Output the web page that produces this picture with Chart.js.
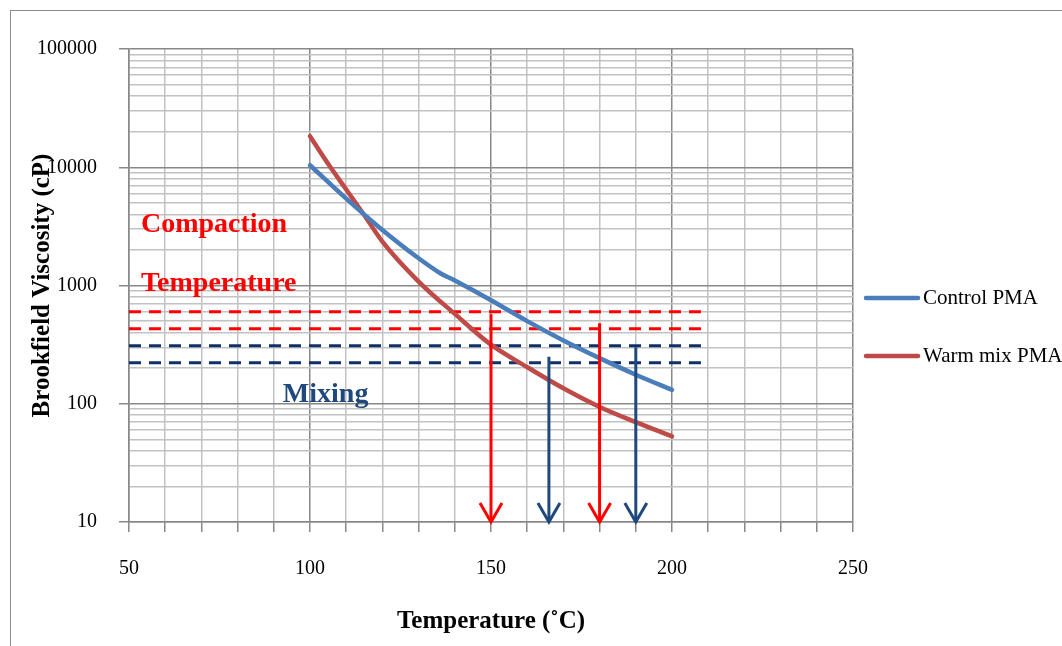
<!DOCTYPE html>
<html>
<head>
<meta charset="utf-8">
<script src="https://cdn.jsdelivr.net/npm/chart.js@4"></script>
<style>
  body { margin: 0; background: #fff; }
  #wrap { position: relative; width: 1062px; height: 646px; overflow: hidden; background: #fff; }
  #frame { position: absolute; left: 10px; top: 10px; width: 1200px; height: 800px; border: 1px solid #8c8c8c; }
  #viscChart { position: absolute; left: 0; top: 0; }
</style>
</head>
<body>
<div id="wrap">
  <div id="frame"></div>
  <canvas id="viscChart" width="1062" height="646"></canvas>
</div>
<script>
// temperature (C) vs brookfield viscosity (cP)
const controlTemp = [100, 110, 120, 130, 136, 140, 150, 160, 170, 180, 190, 200];
const controlVisc = [10400, 5430, 2950, 1700, 1270, 1100, 750, 500, 343, 243, 176, 131];

const warmTemp = [100, 105, 110, 115, 120, 130, 140, 150, 160, 170, 180, 190, 200];
const warmVisc = [18300, 10700, 6480, 3930, 2350, 1080, 575, 316, 204, 135, 94, 70, 53];

// horizontal dashed limits
const limitTemps = [50, 208];
const compactionLimits = [600, 430];
const mixingLimits = [310, 222];

// arrows: temperature, start viscosity (down to axis)
const compactionArrowT = [150, 180];
const compactionArrowV = [570, 480];
const mixingArrowT = [166, 190];
const mixingArrowV = [250, 300];

const xTicks = [50, 60, 70, 80, 90, 100, 110, 120, 130, 140, 150, 160, 170, 180, 190, 200, 210, 220, 230, 240, 250];
const xTickLabels = [50, 100, 150, 200, 250];
const yTickLabels = [10, 100, 1000, 10000, 100000];

const FONT = "'Liberation Serif', 'Times New Roman', serif";
const BLUE = '#4a7ebb';
const RED = '#be4b48';
const NAVY = '#10306b';
const ARROW_NAVY = '#1f497d';
const MAJOR = '#888888';
const MINOR = '#c2c2c2';

// minor log ticks 1..9 per decade
let yTicks = [];
for (let d = 10; d < 100000; d *= 10) {
  for (let m = 1; m < 10; m++) yTicks.push(m * d);
}
yTicks.push(100000);

const notes = [
  { text: 'Compaction', t: 53.3, v: 3280, color: '#ff0000' },
  { text: 'Temperature', t: 53.3, v: 1040, color: '#ff0000' },
  { text: 'Mixing', t: 92.5, v: 119, color: ARROW_NAVY }
];

function pts(xs, ys) {
  return xs.map((x, i) => ({ x: x, y: ys[i] }));
}

let datasets = [
  { label: 'Control PMA', data: pts(controlTemp, controlVisc), borderColor: BLUE, borderWidth: 4.5,
    cubicInterpolationMode: 'monotone', pointRadius: 0, order: 1, series: true, borderCapStyle: 'round' },
  { label: 'Warm mix PMA', data: pts(warmTemp, warmVisc), borderColor: RED, borderWidth: 4.5,
    cubicInterpolationMode: 'monotone', pointRadius: 0, order: 1, series: true, borderCapStyle: 'round' }
];

compactionLimits.forEach(v => datasets.push({
  data: pts(limitTemps, [v, v]), borderColor: '#ff0000', borderWidth: 3, borderDash: [12, 8],
  pointRadius: 0, order: 2
}));
mixingLimits.forEach(v => datasets.push({
  data: pts(limitTemps, [v, v]), borderColor: NAVY, borderWidth: 3, borderDash: [12, 8],
  pointRadius: 0, order: 2
}));
compactionArrowT.forEach((t, i) => datasets.push({
  data: pts([t, t], [compactionArrowV[i], 10]), borderColor: '#ff0000', borderWidth: 3,
  pointRadius: 0, order: 0, arrow: true
}));
mixingArrowT.forEach((t, i) => datasets.push({
  data: pts([t, t], [mixingArrowV[i], 10]), borderColor: ARROW_NAVY, borderWidth: 3,
  pointRadius: 0, order: 0, arrow: true
}));

const extras = {
  id: 'extras',
  afterDatasetsDraw(chart) {
    const ctx = chart.ctx;
    const xs = chart.scales.x, ys = chart.scales.y;
    ctx.save();
    // arrow heads
    chart.data.datasets.forEach(ds => {
      if (!ds.arrow) return;
      const end = ds.data[ds.data.length - 1];
      const px = xs.getPixelForValue(end.x), py = ys.getPixelForValue(end.y);
      ctx.strokeStyle = ds.borderColor;
      ctx.lineWidth = 3;
      ctx.setLineDash([]);
      ctx.beginPath();
      ctx.moveTo(px - 11, py - 19);
      ctx.lineTo(px, py);
      ctx.lineTo(px + 11, py - 19);
      ctx.stroke();
    });
    // notes
    ctx.font = 'bold 28px ' + FONT;
    ctx.textBaseline = 'middle';
    ctx.textAlign = 'left';
    notes.forEach(n => {
      ctx.fillStyle = n.color;
      ctx.fillText(n.text, xs.getPixelForValue(n.t), ys.getPixelForValue(n.v));
    });
    // legend
    const lx = chart.chartArea.right + 11;
    const rows = [298, 356];
    let k = 0;
    ctx.font = '21px ' + FONT;
    chart.data.datasets.forEach(ds => {
      if (!ds.series) return;
      const y = rows[k++];
      ctx.strokeStyle = ds.borderColor;
      ctx.lineWidth = 4.5;
      ctx.lineCap = 'round';
      ctx.beginPath();
      ctx.moveTo(lx + 2, y);
      ctx.lineTo(lx + 54, y);
      ctx.stroke();
      ctx.fillStyle = '#000';
      ctx.fillText(ds.label, lx + 59, y);
    });
    ctx.restore();
  }
};

new Chart(document.getElementById('viscChart'), {
  type: 'line',
  data: { datasets: datasets },
  plugins: [extras],
  options: {
    responsive: false,
    animation: false,
    layout: { padding: { top: 49, right: 209, left: 0, bottom: 0 } },
    plugins: { legend: { display: false }, tooltip: { enabled: false } },
    scales: {
      x: {
        type: 'linear', min: 50, max: 250,
        afterBuildTicks: axis => { axis.ticks = xTicks.map(v => ({ value: v })); },
        afterFit: s => { s.height = 124; },
        ticks: {
          autoSkip: false, maxRotation: 0, padding: 25, color: '#000',
          font: { family: FONT, size: 20 },
          callback: v => xTickLabels.includes(v) ? String(v) : ''
        },
        grid: {
          color: c => (c.tick && c.tick.value % 50 === 0) ? MAJOR : MINOR,
          lineWidth: 1.5, tickLength: 10, tickColor: MAJOR, tickWidth: 1.5
        },
        border: { color: MAJOR, width: 1.5 },
        title: {
          display: true, text: 'Temperature (˚C)', color: '#000',
          font: { family: FONT, size: 25, weight: 'bold' }, padding: { bottom: 9 }
        }
      },
      y: {
        type: 'logarithmic', min: 10, max: 100000,
        afterBuildTicks: axis => { axis.ticks = yTicks.map(v => ({ value: v })); },
        afterFit: s => { s.width = 129; },
        ticks: {
          autoSkip: false, padding: 22, color: '#000',
          font: { family: FONT, size: 20 },
          callback: v => yTickLabels.includes(v) ? String(v) : ''
        },
        grid: {
          color: c => (c.tick && yTickLabels.includes(c.tick.value)) ? MAJOR : MINOR,
          lineWidth: 1.5, tickLength: 10, tickWidth: 1.5,
          tickColor: c => (c.tick && yTickLabels.includes(c.tick.value)) ? MAJOR : 'rgba(0,0,0,0)'
        },
        border: { color: MAJOR, width: 1.5 },
        title: {
          display: true, text: 'Brookfield Viscosity (cP)', color: '#000',
          font: { family: FONT, size: 25, weight: 'bold' }, padding: { top: 28 }
        }
      }
    }
  }
});
</script>
</body>
</html>
